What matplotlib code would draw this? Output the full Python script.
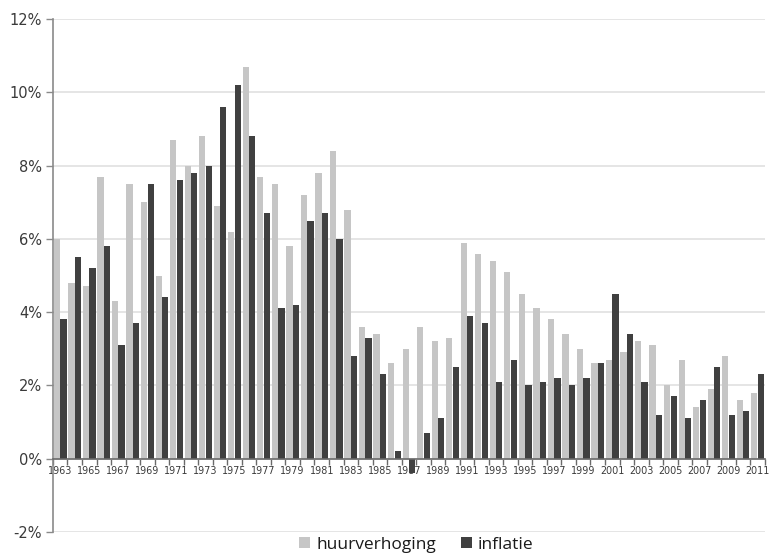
import numpy as np
import matplotlib
matplotlib.use("Agg")
import matplotlib.pyplot as plt
from matplotlib.ticker import FuncFormatter

# ---- data ----
years = list(range(1963, 2012))

huurverhoging = [6.0, 4.8, 4.7, 7.7, 4.3, 7.5, 7.0, 5.0, 8.7, 8.0,
                 8.8, 6.9, 6.2, 10.7, 7.7, 7.5, 5.8, 7.2, 7.8, 8.4,
                 6.8, 3.6, 3.4, 2.6, 3.0, 3.6, 3.2, 3.3, 5.9, 5.6,
                 5.4, 5.1, 4.5, 4.1, 3.8, 3.4, 3.0, 2.6, 2.7, 2.9,
                 3.2, 3.1, 2.0, 2.7, 1.4, 1.9, 2.8, 1.6, 1.8]

inflatie = [3.8, 5.5, 5.2, 5.8, 3.1, 3.7, 7.5, 4.4, 7.6, 7.8,
            8.0, 9.6, 10.2, 8.8, 6.7, 4.1, 4.2, 6.5, 6.7, 6.0,
            2.8, 3.3, 2.3, 0.2, -0.4, 0.7, 1.1, 2.5, 3.9, 3.7,
            2.1, 2.7, 2.0, 2.1, 2.2, 2.0, 2.2, 2.6, 4.5, 3.4,
            2.1, 1.2, 1.7, 1.1, 1.6, 2.5, 1.2, 1.3, 2.3]

y_ticks = [-2, 0, 2, 4, 6, 8, 10, 12]

LIGHT = "#c6c6c6"
DARK = "#404040"
TEXT = "#3a3a3a"

fig = plt.figure(figsize=(7.71, 5.54), dpi=100)
ax = fig.add_axes([0.0687, 0.0397, 0.9233, 0.926])

x = np.arange(len(years))
w = 0.43
ax.bar(x - 0.225, huurverhoging, width=w, color=LIGHT, label="huurverhoging", zorder=3)
ax.bar(x + 0.225, inflatie, width=w, color=DARK, label="inflatie", zorder=3)

ax.set_xlim(-0.5, len(years) - 0.5)
ax.set_ylim(-2, 12)

# y axis
ax.set_yticks(y_ticks)
ax.yaxis.set_major_formatter(FuncFormatter(lambda v, p: f"{int(v)}%"))
ax.tick_params(axis="y", length=5, width=1, color="#8a8a8a", labelsize=10.5,
               labelcolor=TEXT, pad=3)
ax.grid(axis="y", color="#e0e0e0", linewidth=1.2, zorder=0)

# x axis sits on the 0 line, ticks between categories, labels on odd years
ax.spines["bottom"].set_position(("data", 0))
ax.spines["bottom"].set_color("#6a6a6a")
ax.spines["bottom"].set_linewidth(1.2)
ax.spines["bottom"].set_zorder(4)
ax.spines["left"].set_color("#8a8a8a")
ax.spines["left"].set_linewidth(1.2)
ax.spines["top"].set_visible(False)
ax.spines["right"].set_visible(False)

ax.set_xticks(x[::2])
ax.set_xticklabels([str(y) for y in years[::2]])
ax.set_xticks(np.arange(len(years) + 1) - 0.5, minor=True)
ax.tick_params(axis="x", which="major", length=0, labelsize=6.9,
               labelcolor=TEXT, pad=5)
ax.tick_params(axis="x", which="minor", length=4.5, width=1, color="#6a6a6a",
               direction="out")

fig.legend(loc="center", bbox_to_anchor=(0.54, 0.017), ncol=2, frameon=False,
           prop={"family": "Open Sans", "size": 12.5},
           handlelength=0.65, handleheight=0.65,
           handletextpad=0.35, columnspacing=1.4, labelcolor="#1a1a1a")

fig.savefig("out.png", dpi=100)
